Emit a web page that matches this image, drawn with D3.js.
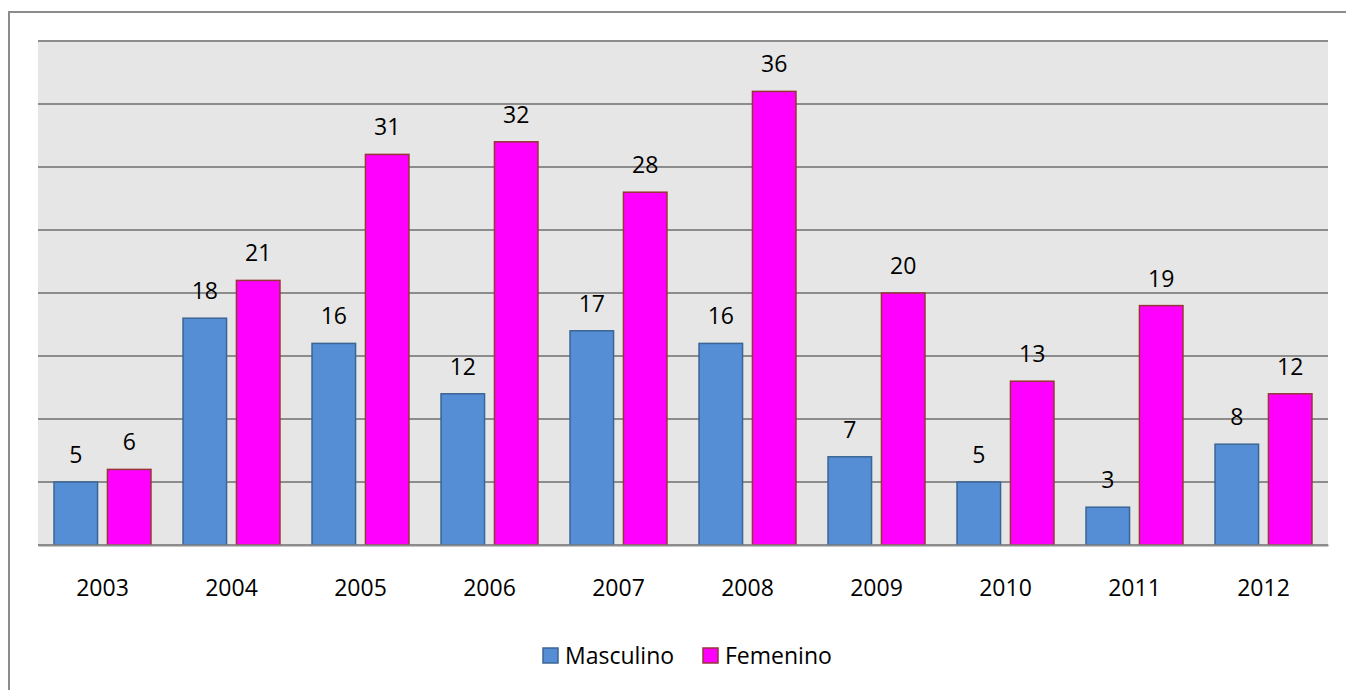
<!DOCTYPE html>
<html>
<head>
<meta charset="utf-8">
<script src="https://cdn.jsdelivr.net/npm/d3@7"></script>
<style>
  body { margin: 0; background: #fff; }
  svg { display: block; }
</style>
</head>
<body>
<svg id="chart" width="1346" height="690"></svg>
<script>
const years = ['2003', '2004', '2005', '2006', '2007', '2008', '2009', '2010', '2011', '2012'];
const masculino = [5, 18, 16, 12, 17, 16, 7, 5, 3, 8];
const femenino = [6, 21, 31, 32, 28, 36, 20, 13, 19, 12];
const seriesNames = ['Masculino', 'Femenino'];
const gridTicks = [0, 5, 10, 15, 20, 25, 30, 35, 40];

const fill = { Masculino: '#558ed5', Femenino: '#ff00ff' };
const edge = { Masculino: '#3b6595', Femenino: '#943634' };
const font = '"Open Sans", "Noto Sans", sans-serif';
const fontSize = 23;

const svg = d3.select('#chart');

// outer frame
svg.append('rect')
  .attr('x', 9).attr('y', 12)
  .attr('width', 1400).attr('height', 800)
  .attr('fill', '#fff')
  .attr('stroke', '#8c8c8c')
  .attr('stroke-width', 2);

const plotL = 38, plotR = 1328, plotT = 41, plotB = 545;

const x = d3.scaleBand().domain(years).range([plotL, plotR]).paddingInner(0).paddingOuter(0);
const y = d3.scaleLinear().domain([0, 40]).range([plotB, plotT]);
const xs = d3.scaleBand().domain(seriesNames).range([0, x.bandwidth()]).paddingInner(0.185).paddingOuter(0.3);

svg.append('rect')
  .attr('x', plotL).attr('y', plotT)
  .attr('width', plotR - plotL).attr('height', plotB - plotT)
  .attr('fill', '#e6e6e6');

svg.append('g')
  .selectAll('line')
  .data(gridTicks)
  .join('line')
  .attr('x1', plotL).attr('x2', plotR)
  .attr('y1', d => y(d)).attr('y2', d => y(d))
  .attr('stroke', '#8c8c8c')
  .attr('stroke-width', 2);

const rows = years.map((yr, i) => ({ year: yr, values: [
  { name: 'Masculino', v: masculino[i] },
  { name: 'Femenino', v: femenino[i] }
] }));

const groups = svg.append('g')
  .selectAll('g')
  .data(rows)
  .join('g')
  .attr('transform', d => `translate(${x(d.year)},0)`);

groups.selectAll('rect')
  .data(d => d.values)
  .join('rect')
  .attr('x', d => xs(d.name))
  .attr('y', d => y(d.v))
  .attr('width', xs.bandwidth())
  .attr('height', d => y(0) - y(d.v))
  .attr('fill', d => fill[d.name])
  .attr('stroke', d => edge[d.name])
  .attr('stroke-width', 1.5);

groups.selectAll('text')
  .data(d => d.values)
  .join('text')
  .attr('x', d => xs(d.name) + xs.bandwidth() / 2)
  .attr('y', d => y(d.v) - 19)
  .attr('text-anchor', 'middle')
  .attr('font-family', font)
  .attr('font-size', fontSize)
  .attr('fill', '#000')
  .text(d => d.v);

// x axis
const xAxis = svg.append('g')
  .attr('transform', `translate(0,${plotB})`)
  .call(d3.axisBottom(x).tickSize(0).tickPadding(35));
xAxis.select('.domain').attr('stroke', '#8c8c8c').attr('stroke-width', 2);
xAxis.selectAll('text')
  .attr('font-family', font)
  .attr('font-size', fontSize)
  .attr('fill', '#000');

// legend
const legendX = [543, 703];
const legend = svg.append('g')
  .selectAll('g')
  .data(seriesNames)
  .join('g')
  .attr('transform', (d, i) => `translate(${legendX[i]},648)`);
legend.append('rect')
  .attr('width', 15).attr('height', 15)
  .attr('fill', d => fill[d])
  .attr('stroke', d => edge[d])
  .attr('stroke-width', 1.5);
legend.append('text')
  .attr('x', 22).attr('y', 16)
  .attr('font-family', font)
  .attr('font-size', fontSize)
  .attr('fill', '#000')
  .text(d => d);
</script>
</body>
</html>
